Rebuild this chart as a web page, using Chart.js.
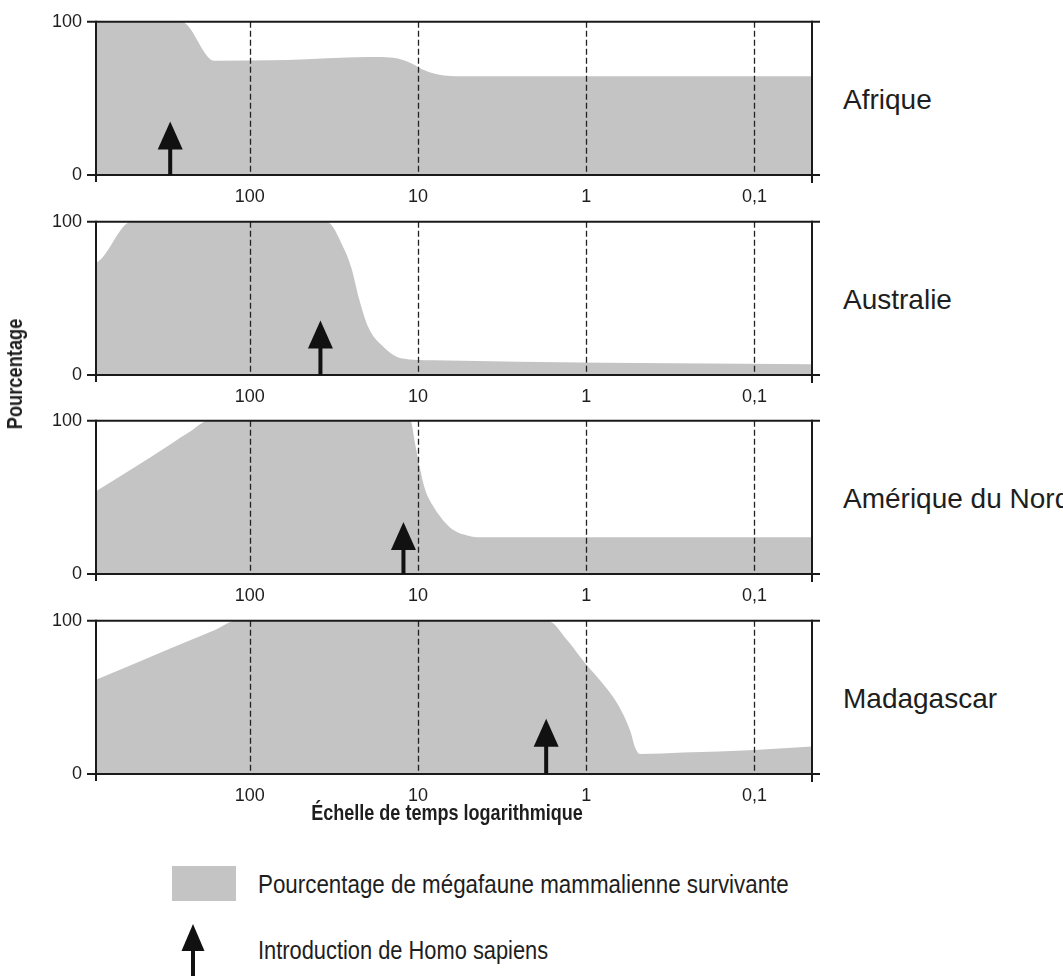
<!DOCTYPE html>
<html>
<head>
<meta charset="utf-8">
<script src="https://cdn.jsdelivr.net/npm/chart.js@4.4.1/dist/chart.umd.min.js"></script>
<style>
  html, body { margin:0; padding:0; background:#fff; overflow:hidden; }
  #wrap { position:relative; width:1063px; height:976px; overflow:hidden; background:#fff; }
  canvas { position:absolute; left:0; }
  .region { position:absolute; left:843px; font-family:"Liberation Sans", Arial, sans-serif; font-size:28px; line-height:28px; color:#1e1e1e; white-space:nowrap; }
  .txt { font-family:"Liberation Sans", Arial, sans-serif; color:#1e1e1e; white-space:nowrap; position:absolute; transform-origin:0 0; }
</style>
</head>
<body>
<div id="wrap">
  <canvas id="c0" width="830" height="218"></canvas>
  <canvas id="c1" width="830" height="218"></canvas>
  <canvas id="c2" width="830" height="218"></canvas>
  <canvas id="c3" width="830" height="218"></canvas>
  <div class="region" id="r0"></div>
  <div class="region" id="r1"></div>
  <div class="region" id="r2"></div>
  <div class="region" id="r3"></div>
  <div class="txt" style="left:15px;top:374px;font-size:22px;line-height:22px;font-weight:bold;transform-origin:50% 50%;transform:translate(-50%,-50%) rotate(-90deg) scaleX(0.83);">Pourcentage</div>
  <div class="txt" style="left:447px;top:802px;font-size:22px;line-height:22px;font-weight:bold;transform-origin:50% 0;transform:translateX(-50%) scaleX(0.82);">Échelle de temps logarithmique</div>
  <div style="position:absolute;left:172px;top:866px;width:64px;height:35px;background:#c4c4c4;"></div>
  <div class="txt" style="left:258px;top:871px;font-size:26px;line-height:26px;transform:scaleX(0.86);">Pourcentage de mégafaune mammalienne survivante</div>
  <svg style="position:absolute;left:180px;top:920px;" width="26" height="60">
    <polygon points="13,4 1.5,31 24.5,31" fill="#111"/>
    <rect x="11" y="28" width="4" height="40" fill="#111"/>
  </svg>
  <div class="txt" style="left:258px;top:937px;font-size:26px;line-height:26px;transform:scaleX(0.84);">Introduction de Homo sapiens</div>
</div>
<script>
// ---- data ----
const regions = ["Afrique", "Australie", "Amérique du Nord", "Madagascar"];
const xTickValues = [100, 10, 1, 0.1];           // milliers d'années (échelle log)
const yTickValues = [0, 100];

const afriqueTimes = [820, 255, 162, 60, 20, 14, 11, 9, 7, 5, 0.0455];
const afriquePct   = [100, 100, 74.5, 75, 77, 76.5, 73, 68, 65, 64.5, 64.5];

const australieTimes = [820, 760, 505, 35, 27.4, 24.9, 22.3, 19.7, 15.9, 12.6, 8, 0.8, 0.0455];
const australiePct   = [73, 76, 100, 100, 82, 70, 49, 31, 18, 11, 9.6, 8, 7];

const ameriqueTimes = [820, 391, 226, 176, 11.1, 10.4, 9.7, 9.06, 8.1, 7.08, 6.01, 5.03, 4.27, 0.0455];
const ameriquePct   = [54, 76, 93, 100, 100, 85, 68, 55, 44, 35, 28, 25, 24, 24];

const madagascarTimes = [820, 297, 161, 120, 1.7, 1.3, 1.01, 0.826, 0.654, 0.547, 0.511, 0.478, 0.265, 0.1, 0.0455];
const madagascarPct   = [61.5, 82, 94, 100, 100, 87.5, 72, 61, 46, 28, 17, 13, 14, 15.7, 18];

const arrivalTimes = [297, 38, 12.2, 1.73];       // introduction de Homo sapiens
const arrowTipPct  = [35, 35.5, 34, 36];

const seriesTimes = [afriqueTimes, australieTimes, ameriqueTimes, madagascarTimes];
const seriesPct   = [afriquePct, australiePct, ameriquePct, madagascarPct];

// ---- layout ----
const panelTops = [22, 222, 421, 621];
const labelTops = [86, 286, 485, 685];
const FILL = '#c4c4c4';
const INK = '#1a1a1a';

const framePlugin = {
  id: 'frame',
  afterDatasetsDraw(chart) {
    const ctx = chart.ctx;
    const {left, right, top, bottom} = chart.chartArea;
    const xs = chart.scales.x, ys = chart.scales.y;
    const idx = chart.options.plugins.frame.index;
    ctx.save();
    ctx.strokeStyle = '#222';
    ctx.lineWidth = 1.3;
    ctx.setLineDash([6, 3]);
    xs.ticks.forEach(t => {
      const px = Math.round(xs.getPixelForValue(t.value)) + 0.5;
      ctx.beginPath(); ctx.moveTo(px, top); ctx.lineTo(px, bottom); ctx.stroke();
    });
    ctx.setLineDash([]);
    ctx.strokeStyle = INK;
    ctx.lineWidth = 2;
    const L = (x1, y1, x2, y2) => { ctx.beginPath(); ctx.moveTo(x1, y1); ctx.lineTo(x2, y2); ctx.stroke(); };
    L(left - 9, top, right + 8, top);
    L(left - 9, bottom, right + 8, bottom);
    L(left, top - 1, left, bottom + 7);
    L(right, top - 1, right, bottom + 8);
    const ax = xs.getPixelForValue(arrivalTimes[idx]);
    const tip = ys.getPixelForValue(arrowTipPct[idx]);
    ctx.fillStyle = '#111';
    ctx.fillRect(ax - 2, tip + 24, 4, bottom - tip - 24);
    ctx.beginPath();
    ctx.moveTo(ax, tip);
    ctx.lineTo(ax - 12.5, tip + 28);
    ctx.lineTo(ax + 12.5, tip + 28);
    ctx.closePath();
    ctx.fill();
    ctx.restore();
  }
};

const fmt = v => String(v).replace('.', ',');

regions.forEach((name, i) => {
  const canvas = document.getElementById('c' + i);
  canvas.style.top = (panelTops[i] - 25) + 'px';
  const lab = document.getElementById('r' + i);
  lab.textContent = name;
  lab.style.top = labelTops[i] + 'px';

  const pts = seriesTimes[i].map((t, k) => ({x: t, y: seriesPct[i][k]}));
  new Chart(canvas, {
    type: 'line',
    data: { datasets: [{
      data: pts,
      fill: 'origin',
      backgroundColor: FILL,
      borderColor: 'rgba(0,0,0,0)',
      borderWidth: 0,
      pointRadius: 0,
      cubicInterpolationMode: 'monotone'
    }]},
    options: {
      responsive: false,
      animation: false,
      devicePixelRatio: 1,
      layout: { padding: { top: 12, right: 18, left: 0, bottom: 0 } },
      plugins: { legend: { display: false }, tooltip: { enabled: false }, frame: { index: i } },
      scales: {
        x: {
          type: 'logarithmic',
          reverse: true,
          min: 0.0455,
          max: 820,
          afterBuildTicks: s => { s.ticks = xTickValues.map(v => ({value: v})); },
          afterFit: s => { s.height = 40; },
          grid: { display: false, drawTicks: false },
          border: { display: false },
          ticks: {
            autoSkip: false, maxRotation: 0, padding: 11,
            color: '#1e1e1e',
            font: { family: '"Liberation Sans", Arial, sans-serif', size: 18 },
            callback: v => fmt(v)
          }
        },
        y: {
          type: 'linear',
          min: 0, max: 100,
          afterBuildTicks: s => { s.ticks = yTickValues.map(v => ({value: v})); },
          afterFit: s => { s.width = 96; },
          grid: { display: false, drawTicks: false },
          border: { display: false },
          ticks: {
            padding: 14,
            color: '#1e1e1e',
            font: { family: '"Liberation Sans", Arial, sans-serif', size: 18 }
          }
        }
      }
    },
    plugins: [framePlugin]
  });
});
</script>
</body>
</html>
